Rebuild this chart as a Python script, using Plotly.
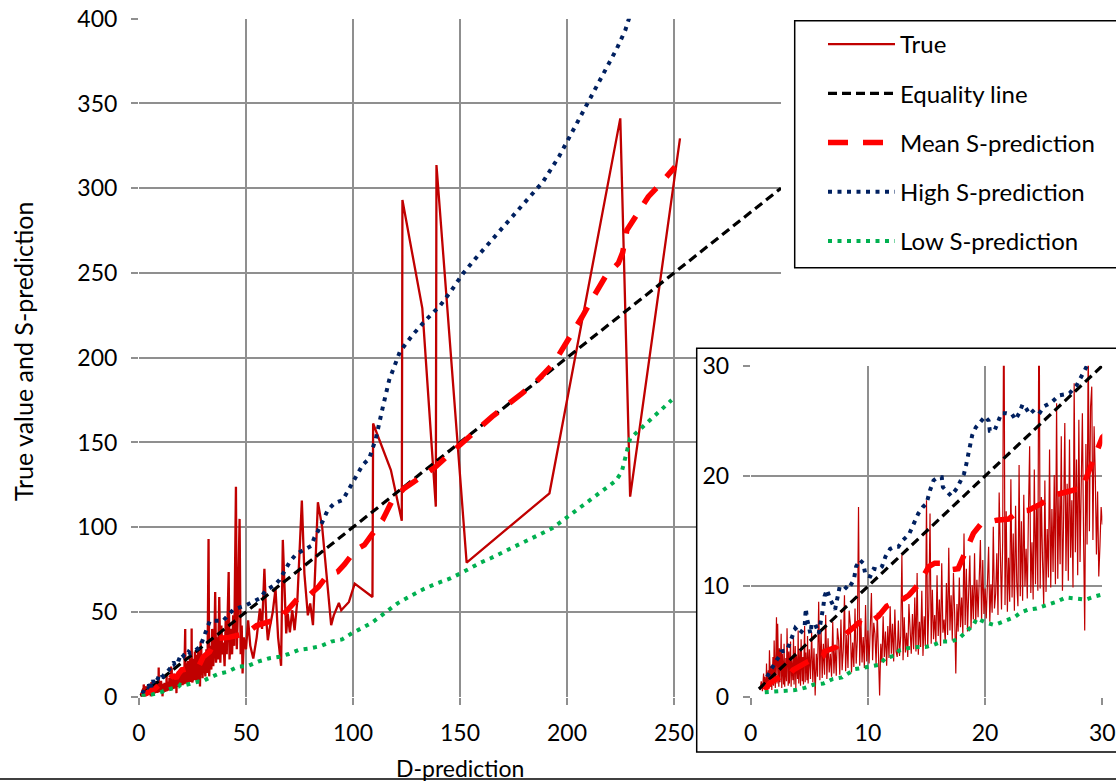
import plotly.graph_objects as go

# ---------------- data ----------------
true_x = [
    0.8, 0.9, 1.0, 1.1, 1.15, 1.2, 1.3, 1.35, 1.4, 1.5,
    1.55, 1.6, 1.7, 1.75, 1.8, 1.9, 1.95, 2.0, 2.1, 2.15,
    2.2, 2.25, 2.3, 2.4, 2.45, 2.5, 2.6, 2.65, 2.7, 2.8,
    2.85, 2.9, 3.0, 3.05, 3.1, 3.2, 3.25, 3.3, 3.4, 3.45,
    3.5, 3.6, 3.65, 3.7, 3.8, 3.85, 3.9, 4.0, 4.05, 4.1,
    4.2, 4.25, 4.3, 4.4, 4.45, 4.5, 4.6, 4.65, 4.7, 4.8,
    4.85, 4.9, 5.0,
    5.1, 5.2, 5.3, 5.4, 5.5, 5.6, 5.7, 5.8, 5.9, 6.0,
    6.1, 6.2, 6.3, 6.4, 6.5, 6.6, 6.7, 6.8, 6.9, 7.0,
    7.1, 7.2, 7.3, 7.4, 7.5, 7.6, 7.7, 7.8, 7.9, 8.0,
    8.1, 8.2, 8.3, 8.4, 8.5, 8.6, 8.7, 8.8, 8.9, 9.0,
    9.1, 9.2, 9.3, 9.4, 9.5, 9.6, 9.7, 9.8, 9.9, 10.0,
    10.1, 10.2, 10.3, 10.4, 10.5, 10.6, 10.7, 10.8, 10.9, 11.0,
    11.1, 11.2, 11.3, 11.4, 11.5, 11.6, 11.7, 11.8, 11.9, 12.0,
    12.1, 12.2, 12.3, 12.4, 12.5, 12.6, 12.7, 12.8, 12.9, 13.0,
    13.1, 13.2, 13.3, 13.4, 13.5, 13.6, 13.7, 13.8, 13.9, 14.0,
    14.1, 14.2, 14.3, 14.4, 14.5, 14.6, 14.7, 14.8, 14.9, 15.0,
    15.1, 15.2, 15.3, 15.4, 15.5, 15.6, 15.7, 15.8, 15.9, 16.0,
    16.1, 16.2, 16.3, 16.4, 16.5, 16.6, 16.7, 16.8, 16.9, 17.0,
    17.1, 17.2, 17.3, 17.4, 17.5, 17.6, 17.7, 17.8, 17.9, 18.0,
    18.1, 18.2, 18.3, 18.4, 18.5, 18.6, 18.7, 18.8, 18.9, 19.0,
    19.1, 19.2, 19.3, 19.4, 19.5, 19.6, 19.7, 19.8, 19.9, 20.0,
    20.1, 20.2, 20.3, 20.4, 20.5, 20.6, 20.7, 20.8, 20.9, 21.0,
    21.1, 21.2, 21.3, 21.4, 21.5, 21.6, 21.7, 21.8, 21.9, 22.0,
    22.1, 22.2, 22.3, 22.4, 22.5, 22.6, 22.7, 22.8, 22.9, 23.0,
    23.1, 23.2, 23.3, 23.4, 23.5, 23.6, 23.7, 23.8, 23.9, 24.0,
    24.1, 24.2, 24.3, 24.4, 24.5, 24.6, 24.7, 24.8, 24.9, 25.0,
    25.1, 25.2, 25.3, 25.4, 25.5, 25.6, 25.7, 25.8, 25.9, 26.0,
    26.1, 26.2, 26.3, 26.4, 26.5, 26.6, 26.7, 26.8, 26.9, 27.0,
    27.1, 27.2, 27.3, 27.4, 27.5, 27.6, 27.7, 27.8, 27.9, 28.0,
    28.1, 28.2, 28.3, 28.4, 28.5, 28.6, 28.7, 28.8, 28.9, 29.0,
    29.1, 29.2, 29.3, 29.4, 29.5, 29.6, 29.7, 29.8, 29.9, 30.0,
    30.5, 31.0, 31.5, 32.0, 32.5, 32.8, 33.3, 33.8, 34.2, 34.7,
    35.2, 35.6, 36.0, 36.5, 37.0, 37.5, 38.0, 38.5, 39.0, 39.5,
    40.0, 40.5, 41.0, 41.9, 42.3, 43.0, 43.5, 44.0, 44.5, 45.3,
    45.7, 46.2, 47.0, 47.5, 48.0, 48.4, 49.0, 50.0, 51.0, 52.0,
    53.4, 55.0, 56.5, 57.5, 58.6, 59.5, 60.2, 61.0, 62.5, 63.8,
    65.0, 66.4, 67.2, 68.8, 69.5, 70.5, 71.6, 72.7, 74.0, 76.1,
    77.3, 78.9, 80.0, 81.3, 83.6, 85.6, 89.8, 91.0, 93.4, 94.5,
    98.1, 100.8, 109.1, 109.4, 117.7, 122.8, 123.1, 132.4, 138.7, 139.0,
    153.1, 191.8, 224.9, 229.5, 252.8,
]
true_y = [
    0.6, 1.4, 0.5, 2.1, 0.7, 1.8, 0.6, 3.0, 0.8, 2.4,
    0.7, 4.2, 0.9, 2.8, 0.6, 3.6, 1.0, 5.1, 0.8, 3.2,
    7.2, 1.2, 6.6, 0.9, 4.4, 1.3, 5.7, 0.8, 3.9, 1.1,
    4.8, 0.9, 3.5, 1.4, 6.2, 1.0, 4.1, 1.2, 5.0, 0.9,
    3.3, 1.5, 5.4, 1.1, 4.6, 0.8, 3.8, 1.6, 6.0, 1.2,
    4.2, 1.0, 5.2, 1.4, 3.6, 1.1, 6.4, 1.3, 4.0, 1.5,
    5.5, 1.2, 4.3,
    1.6, 5.8, 1.3, 4.4, 0.1, 3.9, 1.8, 8.6, 1.5, 6.1,
    1.7, 4.8, 2.0, 7.4, 1.6, 5.3, 2.2, 3.9, 1.8, 6.8,
    2.1, 4.6, 1.9, 6.2, 5.1, 2.0, 7.0, 2.4, 4.3, 9.2,
    2.3, 5.6, 2.6, 7.8, 6.6, 2.2, 4.9, 2.7, 8.0, 3.0,
    5.2, 17.2, 2.8, 7.1, 3.1, 5.4, 2.6, 8.3, 3.2, 6.0,
    3.0, 5.8, 9.4, 3.3, 6.7, 5.7, 2.9, 7.6, 3.4, 0.1,
    4.8, 3.1, 7.3, 3.6, 5.9, 2.8, 6.4, 3.5, 8.2, 3.9,
    6.6, 3.2, 7.9, 4.1, 3.6, 6.9, 3.7, 5.5, 12.9, 3.3,
    7.2, 4.0, 5.8, 3.6, 8.4, 6.6, 3.9, 7.5, 4.3, 9.0,
    4.1, 11.2, 3.8, 6.8, 4.5, 9.6, 3.7, 7.3, 4.6, 17.8,
    4.4, 8.1, 16.6, 4.8, 9.7, 5.2, 7.4, 4.9, 11.0, 5.5,
    8.8, 4.6, 12.1, 5.8, 7.0, 4.9, 10.3, 5.6, 13.5, 6.0,
    9.2, 5.1, 11.2, 7.6, 2.1, 8.4, 5.9, 10.8, 6.3, 9.0,
    5.7, 14.8, 6.5, 11.6, 5.9, 9.5, 12.8, 6.2, 10.1, 7.0,
    13.0, 6.6, 10.6, 7.2, 11.8, 14.2, 6.9, 12.4, 7.5, 9.8,
    7.1, 11.5, 13.6, 6.8, 10.2, 7.6, 15.4, 8.0, 9.3, 13.0,
    7.4, 18.5, 11.2, 7.9, 14.1, 40.0, 8.3, 16.8, 7.7, 12.6,
    8.6, 19.7, 9.0, 14.8, 7.8, 17.3, 10.4, 8.2, 21.0, 9.1,
    15.9, 8.7, 18.3, 10.0, 13.4, 8.9, 16.7, 22.7, 9.4, 14.0,
    8.8, 20.6, 10.2, 17.5, 9.6, 40.2, 9.8, 18.1, 12.3, 8.4,
    19.6, 9.5, 15.2, 10.8, 22.4, 9.9, 17.0, 11.3, 20.1, 10.2,
    26.6, 10.7, 18.4, 12.0, 23.6, 9.6, 16.2, 24.8, 11.4, 19.3,
    10.5, 23.3, 12.6, 17.8, 9.9, 28.4, 13.1, 21.5, 11.0, 25.1,
    12.2, 19.4, 25.7, 14.6, 6.0, 22.9, 13.8, 32.5, 15.0, 26.3,
    28.1, 14.2, 24.5, 20.2, 12.9, 18.6, 10.9, 13.7, 17.2, 15.6,
    22.0, 12.0, 28.0, 14.0, 93.0, 12.0, 30.0, 16.0, 40.0, 18.0,
    30.0, 61.8, 20.0, 35.0, 22.0, 58.8, 20.0, 42.0, 25.0, 32.0,
    18.0, 45.0, 25.0, 73.5, 22.0, 40.0, 25.0, 48.0, 30.0, 123.9,
    28.0, 50.0, 104.9, 25.0, 42.0, 13.7, 35.0, 28.0, 45.0, 30.0,
    22.5, 35.0, 52.0, 40.0, 75.5, 45.0, 33.3, 40.0, 50.0, 63.7,
    35.0, 18.2, 92.5, 37.3, 49.0, 38.0, 51.0, 39.2, 56.9, 115.7,
    72.5, 48.0, 55.0, 42.2, 114.7, 100.0, 42.2, 48.0, 55.3, 51.0,
    55.9, 66.7, 58.8, 161.2, 133.7, 103.8, 293.0, 229.1, 112.1, 313.7,
    79.1, 120.0, 341.2, 118.0, 329.4,
]

eq_x = [0.7, 300]
eq_y = [0.7, 300]

mean_x = [
    1.2, 1.6, 2.5, 3.1, 3.6, 3.9, 4.9, 6.2, 6.3, 7.3,
    7.8, 8.8, 9.2, 9.9, 10.5, 10.9, 11.6, 12.2, 12.5, 13.5,
    14.0, 14.4, 15.2, 15.7, 16.2, 17.0, 17.7, 18.6, 19.0, 19.6,
    20.0, 21.0, 22.0, 22.8, 23.7, 24.8, 25.7, 26.0, 27.1, 27.8,
    28.2, 28.8, 29.2, 29.4, 30.0, 33.0, 36.2, 42.0, 46.6, 50.2,
    55.0, 60.5, 65.7, 70.0, 74.3, 79.7, 84.0, 88.2, 92.8, 96.0,
    101.2, 105.3, 110.0, 113.8, 115.4, 118.0, 123.9, 130.0, 138.7, 145.0,
    152.6, 165.0, 179.0, 185.0, 193.8, 202.3, 207.0, 212.4, 218.0, 224.0,
    226.0, 228.0, 238.0, 244.0, 250.5,
]
mean_y = [
    0.6, 1.2, 1.8, 1.7, 2.4, 2.6, 3.2, 3.7, 4.1, 4.5,
    5.4, 6.3, 6.7, 6.5, 6.9, 7.3, 8.2, 8.5, 8.5, 9.2,
    9.8, 10.3, 11.8, 12.1, 12.1, 11.5, 11.6, 13.7, 14.8, 15.6,
    15.8, 16.0, 16.1, 16.8, 16.9, 17.5, 18.1, 18.3, 18.6, 18.8,
    18.7, 20.2, 21.3, 21.8, 23.5, 26.6, 34.4, 35.0, 36.4, 37.4,
    42.0, 44.3, 46.2, 52.0, 58.1, 60.0, 65.0, 71.9, 73.7, 78.0,
    86.6, 89.5, 97.0, 104.2, 108.2, 115.0, 122.9, 128.0, 135.7, 143.0,
    151.4, 165.2, 179.0, 185.0, 196.7, 213.4, 224.0, 236.0, 248.0, 255.7,
    262.0, 275.3, 295.0, 303.0, 312.7,
]

high_x = [
    1.4, 1.8, 2.2, 2.4, 2.6, 3.1, 3.3, 3.6, 3.8, 4.2,
    4.6, 4.7, 4.8, 5.1, 5.2, 5.5, 5.8, 6.2, 6.3, 6.5,
    6.8, 7.2, 7.6, 8.0, 8.3, 8.8, 9.0, 9.3, 9.6, 9.8,
    10.2, 10.5, 10.9, 11.2, 11.5, 11.9, 12.3, 12.6, 13.0, 13.5,
    13.9, 14.3, 14.7, 15.0, 15.3, 15.6, 16.0, 16.3, 16.4, 16.7,
    17.1, 17.6, 17.9, 18.2, 18.4, 18.6, 18.9, 19.2, 19.6, 20.0,
    20.3, 20.4, 20.8, 21.1, 21.4, 21.8, 22.3, 22.6, 22.9, 23.2,
    23.4, 23.8, 24.3, 24.7, 25.0, 25.7, 26.3, 26.8, 27.2, 27.8,
    28.4, 28.8, 31.5, 33.1, 39.3, 43.9, 50.2, 56.4, 59.5, 63.4,
    65.7, 70.3, 73.5, 76.5, 80.4, 82.0, 84.3, 88.2, 91.3, 95.2,
    97.5, 99.8, 104.5, 107.6, 110.7, 113.8, 116.9, 121.9, 127.8, 134.0,
    140.7, 146.1, 151.5, 157.3, 163.8, 170.0, 176.4, 182.6, 188.8, 196.4,
    205.4, 212.0, 218.8, 223.3, 227.2, 228.7, 232.0,
]
high_y = [
    1.8, 2.6, 3.3, 3.6, 4.1, 4.2, 4.8, 5.7, 6.2, 5.7,
    6.3, 8.0, 7.1, 5.7, 6.6, 6.6, 5.7, 8.2, 9.1, 9.7,
    8.8, 7.9, 10.0, 10.0, 9.7, 10.6, 11.8, 12.4, 12.1, 11.0,
    10.9, 11.6, 11.5, 11.8, 12.7, 13.4, 13.6, 13.6, 14.2, 14.7,
    15.7, 16.6, 17.2, 17.5, 18.7, 19.6, 19.9, 19.9, 19.0, 18.6,
    18.2, 18.9, 19.6, 20.2, 21.1, 22.1, 23.7, 24.4, 24.9, 25.4,
    25.0, 24.1, 24.1, 24.8, 25.7, 25.7, 25.6, 25.1, 25.7, 26.5,
    26.3, 25.6, 26.1, 25.8, 26.3, 26.7, 27.3, 27.4, 27.5, 28.2,
    29.3, 30.2, 39.4, 44.8, 44.8, 51.2, 54.1, 58.0, 63.0, 65.9,
    68.9, 79.3, 84.2, 86.2, 88.9, 94.0, 99.3, 110.1, 114.1, 116.0,
    120.9, 126.3, 136.7, 140.6, 152.4, 170.1, 186.8, 203.5, 213.4, 222.2,
    230.7, 239.9, 249.8, 258.6, 267.9, 276.9, 286.1, 295.4, 303.8, 319.0,
    340.2, 356.0, 371.7, 382.4, 393.1, 399.2, 412.0,
]

low_x = [
    1.2, 2.1, 2.9, 3.8, 4.6, 5.4, 6.2, 7.0, 7.8, 8.2,
    8.9, 9.5, 10.3, 11.0, 11.5, 12.2, 12.7, 13.4, 14.2, 14.9,
    15.6, 16.3, 17.0, 17.7, 18.4, 19.0, 19.3, 20.1, 20.8, 21.7,
    22.5, 23.0, 23.7, 24.4, 25.2, 26.1, 26.9, 27.8, 28.6, 29.4,
    30.1, 32.3, 36.9, 41.6, 46.3, 50.9, 55.6, 61.0, 65.7, 70.0,
    74.7, 79.7, 85.1, 89.8, 94.9, 99.5, 104.2, 108.9, 113.0, 116.9,
    120.8, 127.0, 133.0, 139.0, 145.7, 150.3, 155.0, 159.6, 164.3, 169.0,
    173.9, 178.7, 183.5, 188.3, 193.0, 197.2, 201.5, 205.7, 210.1, 214.3,
    218.6, 222.8, 225.6, 226.9, 228.3, 229.5, 233.4, 237.3, 241.2, 245.0,
    248.9,
]
low_y = [
    0.4, 0.45, 0.5, 0.6, 0.8, 1.1, 1.2, 1.6, 1.75, 2.0,
    2.5, 2.6, 2.8, 2.9, 3.5, 3.7, 4.2, 4.4, 4.5, 4.5,
    4.7, 5.0, 5.0, 5.2, 5.9, 6.5, 7.1, 6.7, 6.5, 6.9,
    7.2, 7.6, 7.9, 8.0, 8.3, 8.6, 9.0, 8.9, 8.8, 9.1,
    9.3, 10.8, 13.4, 14.8, 17.7, 18.1, 20.7, 22.7, 23.6, 25.2,
    27.6, 28.5, 29.9, 32.5, 33.8, 37.4, 40.4, 43.7, 47.6, 51.6,
    55.1, 59.5, 63.5, 66.8, 69.9, 72.8, 76.1, 79.1, 81.7, 84.6,
    87.6, 90.5, 93.5, 96.3, 99.3, 103.2, 107.2, 111.5, 115.5, 119.6,
    123.5, 127.4, 132.7, 139.2, 146.0, 152.4, 156.9, 161.3, 165.8, 170.5,
    175.0,
]

main_xticks = [0, 50, 100, 150, 200, 250]
main_yticks = [0, 50, 100, 150, 200, 250, 300, 350, 400]
inset_ticks = [0, 10, 20, 30]

assert len(true_x) == len(true_y)
assert len(mean_x) == len(mean_y)
assert len(high_x) == len(high_y)
assert len(low_x) == len(low_y)

# ---------------- styling ----------------
W, H = 1116, 781
FONT = "Lato"
TICK_SIZE = 23
TITLE_SIZE = 23
YTITLE_SIZE = 25
LEG_SIZE = 24
GRID = "#8f8f8f"
C_TRUE = "#C00000"
C_MEAN = "#FF0000"
C_HIGH = "#002060"
C_LOW = "#00B050"

def px_x(p):
    return p / W

def px_y(p):
    return 1 - p / H

fig = go.Figure()

# white panel behind the inset (covers main gridlines in the inset area)
inset_left_val = (696.7 - 139) / ((781 - 139) / 300)
inset_top_val = (696.7 - 348.3) / ((696.7 - 18.7) / 400)
fig.add_trace(go.Scatter(
    x=[inset_left_val, 320, 320, inset_left_val, inset_left_val],
    y=[-20, -20, inset_top_val, inset_top_val, -20],
    fill="toself", fillcolor="white", mode="lines",
    line=dict(width=0, color="white"), hoverinfo="skip", showlegend=False,
    xaxis="x", yaxis="y"))

series = [
    ("True", true_x, true_y, dict(color=C_TRUE, width=2.3), dict(color=C_TRUE, width=1.2)),
    ("Equality line", eq_x, eq_y, dict(color="black", width=3.2, dash="9px,5px"),
     dict(color="black", width=3.2, dash="9px,5px")),
    ("Mean S-prediction", mean_x, mean_y, dict(color=C_MEAN, width=5.5, dash="20px,15px"),
     dict(color=C_MEAN, width=5.5, dash="20px,15px")),
    ("High S-prediction", high_x, high_y, dict(color=C_HIGH, width=4, dash="4px,5.5px"),
     dict(color=C_HIGH, width=4, dash="4px,5.5px")),
    ("Low S-prediction", low_x, low_y, dict(color=C_LOW, width=4, dash="4px,5.5px"),
     dict(color=C_LOW, width=4, dash="4px,5.5px")),
]

for i, (name, xs, ys, lmain, linset) in enumerate(series):
    fig.add_trace(go.Scatter(x=xs, y=ys, mode="lines", name=name, line=lmain,
                             xaxis="x", yaxis="y", legendgroup=f"g{i}",
                             showlegend=True))

for i, (name, xs, ys, lmain, linset) in enumerate(series):
    fig.add_trace(go.Scatter(x=xs, y=ys, mode="lines", name=name, line=linset,
                             xaxis="x2", yaxis="y2", legendgroup=f"g{i}",
                             showlegend=False))

axis_common = dict(
    showgrid=True, gridcolor=GRID, gridwidth=1.6, zeroline=False,
    showline=False, ticks="outside", ticklen=7, tickcolor=GRID, tickwidth=1.6,
    tickfont=dict(family=FONT, size=TICK_SIZE, color="black"), tickmode="array",
    ticklabelstandoff=9, automargin=False,
)

fig.update_layout(
    width=W, height=H, margin=dict(l=0, r=0, t=0, b=0, autoexpand=False),
    paper_bgcolor="white", plot_bgcolor="white",
    font=dict(family=FONT, size=TICK_SIZE, color="black"),
    xaxis=dict(domain=[px_x(139), px_x(781)], range=[0, 300], tickvals=main_xticks,
               minor=dict(tickmode="array", tickvals=[300], showgrid=True,
                          gridcolor=GRID, gridwidth=1.6, ticks=""),
               anchor="y", **axis_common),
    yaxis=dict(domain=[px_y(696.7), px_y(18.7)], range=[0, 400], tickvals=main_yticks,
               anchor="x", **axis_common),
    xaxis2=dict(domain=[px_x(750.7), px_x(1102.3)], range=[0, 30], tickvals=inset_ticks,
                anchor="y2", **axis_common),
    yaxis2=dict(domain=[px_y(696.7), px_y(365.7)], range=[0, 30], tickvals=inset_ticks,
                anchor="x2", **axis_common),
    showlegend=True,
    legend=dict(x=px_x(823), y=px_y(22), xanchor="left", yanchor="top",
                bgcolor="rgba(0,0,0,0)", borderwidth=0,
                font=dict(family=FONT, size=LEG_SIZE, color="black"),
                itemwidth=67, tracegroupgap=15),
    annotations=[
        dict(text="True value and S-prediction", x=px_x(23), y=px_y(352),
             xref="paper", yref="paper", xanchor="center", yanchor="middle",
             textangle=-90, showarrow=False,
             font=dict(family=FONT, size=YTITLE_SIZE, color="black")),
        dict(text="D-prediction", x=px_x(460), y=px_y(768), xref="paper", yref="paper",
             xanchor="center", yanchor="middle", showarrow=False,
             font=dict(family=FONT, size=TITLE_SIZE, color="black")),
    ],
    shapes=[
        # inset frame
        dict(type="rect", xref="paper", yref="paper",
             x0=px_x(696.7), x1=px_x(1130), y0=px_y(752), y1=px_y(348.3),
             line=dict(color="black", width=1.5), layer="above"),
        # legend frame
        dict(type="rect", xref="paper", yref="paper",
             x0=px_x(794.7), x1=px_x(1130), y0=px_y(267.7), y1=px_y(20.7),
             line=dict(color="black", width=1.5), layer="above"),
        # bottom border line
        dict(type="line", xref="paper", yref="paper",
             x0=0, x1=1, y0=px_y(779), y1=px_y(779),
             line=dict(color="black", width=1.5), layer="above"),
    ],
)

fig.write_html("out.html")
